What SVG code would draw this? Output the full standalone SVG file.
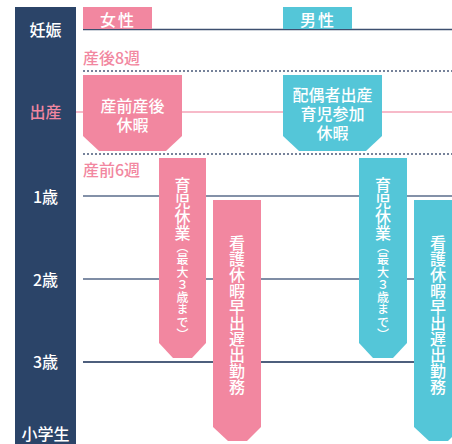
<svg xmlns="http://www.w3.org/2000/svg" width="452" height="444" viewBox="0 0 452 444">
<style>
text{font-family:"Noto Sans CJK JP","Noto Sans",sans-serif;font-size:16px;font-weight:500;}
.w{fill:#ffffff;}
.pk{fill:#f287a0;}
.cy{fill:#54c6d8;}
.c{text-anchor:middle;dominant-baseline:central;}
.v{writing-mode:vertical-rl;fill:#ffffff;}
.sm{font-size:12px;letter-spacing:0.5px;}
.dash{stroke:#4a5a7a;stroke-width:1.5;stroke-dasharray:2 2;fill:none;}
</style>
<rect width="452" height="444" fill="#ffffff"/>
<g id="axis">
<rect x="15" y="7" width="61" height="437" fill="#2b4468"/>
<text class="w c" x="45.5" y="29">妊娠</text>
<text class="c" x="45.5" y="111" fill="#f287a0">出産</text>
<text class="w c" x="45.5" y="196">1歳</text>
<text class="w c" x="45.5" y="279">2歳</text>
<text class="w c" x="45.5" y="361">3歳</text>
<text class="w c" x="45.5" y="433">小学生</text>
</g>
<g id="connectors">
<line x1="83" y1="29.5" x2="452" y2="29.5" stroke="#3d4f6f" stroke-width="1.5"/>
<line x1="83" y1="71" x2="452" y2="71" class="dash"/>
<line x1="76" y1="112" x2="452" y2="112" stroke="#f5a3b7" stroke-width="1.5"/>
<line x1="83" y1="154" x2="452" y2="154" class="dash"/>
<line x1="83" y1="196" x2="452" y2="196" stroke="#8391a8" stroke-width="2"/>
<line x1="83" y1="279" x2="452" y2="279" stroke="#7f8da5" stroke-width="2"/>
<line x1="83" y1="362" x2="452" y2="362" stroke="#4d5f7d" stroke-width="2"/>
</g>
<g id="labels">
<text class="pk" x="83" y="57" dominant-baseline="central">産後8週</text>
<text class="pk" x="83" y="169" dominant-baseline="central">産前6週</text>
</g>
<g id="tab-female">
<rect x="83" y="7" width="69" height="22" class="pk"/>
<text class="w c" x="118" y="18.5" style="letter-spacing:2px">女性</text>
</g>
<g id="tab-male">
<rect x="283" y="7" width="69" height="22" class="cy"/>
<text class="w c" x="318" y="18.5" style="letter-spacing:2px">男性</text>
</g>
<g id="maternity-leave">
<polygon class="pk" points="83,75 182,75 182,136 166,151 99,151 83,136"/>
<text class="w c" x="132.5" y="105">産前産後<tspan x="132.5" dy="19">休暇</tspan></text>
</g>
<g id="paternity-leave">
<polygon class="cy" points="283,75 382,75 382,136 366,151 299,151 283,136"/>
<text class="w c" x="332.5" y="94">配偶者出産<tspan x="332.5" dy="19">育児参加</tspan><tspan x="332.5" dy="19">休暇</tspan></text>
</g>
<g id="childcare-female">
<polygon class="pk" points="159,158 206,158 206,343 192,358 173,358 159,343"/>
<text class="v" x="182.5" y="177">育児休業<tspan class="sm">（最大３歳まで）</tspan></text>
</g>
<g id="nursing-female">
<polygon class="pk" points="213,200 261,200 261,427 247,441 228,441 213,427"/>
<text class="v" x="237" y="235">看護休暇早出遅出勤務</text>
</g>
<g id="childcare-male">
<polygon class="cy" points="359,158 407,158 407,343 393,358 373,358 359,343"/>
<text class="v" x="383" y="177">育児休業<tspan class="sm">（最大３歳まで）</tspan></text>
</g>
<g id="nursing-male">
<polygon class="cy" points="414,200 462,200 462,427 448,441 429,441 414,427"/>
<text class="v" x="438" y="235">看護休暇早出遅出勤務</text>
</g>
</svg>
